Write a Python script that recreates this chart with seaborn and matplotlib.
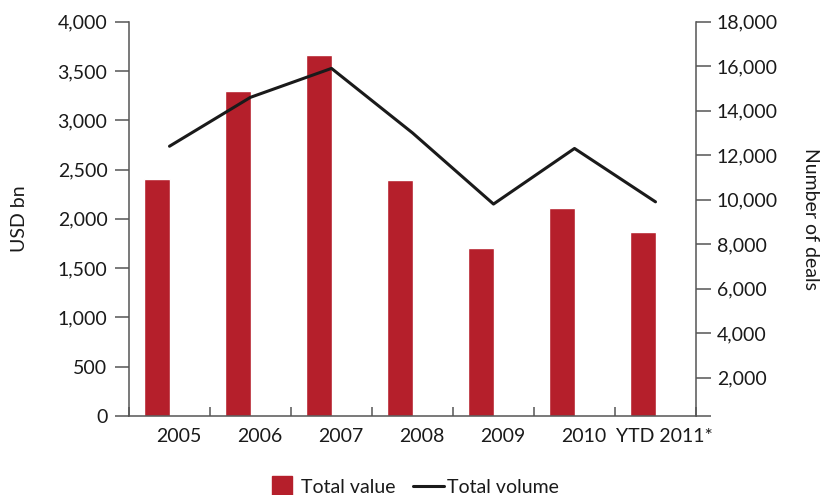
import numpy as np
import pandas as pd
import matplotlib
matplotlib.use("Agg")
import matplotlib.pyplot as plt
from matplotlib.lines import Line2D
import seaborn as sns

# ---- data ----
categories = ["2005", "2006", "2007", "2008", "2009", "2010", "YTD 2011*"]
total_value = [2400, 3300, 3660, 2390, 1700, 2110, 1870]          # USD bn
total_volume = [12400, 14600, 15900, 13000, 9800, 12300, 9900]    # number of deals
left_ticks = [0, 500, 1000, 1500, 2000, 2500, 3000, 3500, 4000]
right_ticks = [2000, 4000, 6000, 8000, 10000, 12000, 14000, 16000, 18000]

RED = "#B51F2B"
LINE = "#1a1a1a"
SPINE = "#555555"
TEXT = "#1a1a1a"

sns.set_theme(style="white")
plt.rcParams["font.family"] = ["Lato", "DejaVu Sans"]
plt.rcParams["font.size"] = 14
plt.rcParams["text.color"] = TEXT
plt.rcParams["axes.labelcolor"] = TEXT
plt.rcParams["xtick.labelcolor"] = TEXT
plt.rcParams["ytick.labelcolor"] = TEXT

n = len(categories)
df_bar = pd.DataFrame({
    "category": categories,
    "value": total_value,
    "series": ["Total value"] * n,
})
df_line = pd.DataFrame({"pos": np.arange(n), "volume": total_volume})

fig = plt.figure(figsize=(8.22, 4.95), dpi=100)
ax = fig.add_axes([129 / 822, 1 - 416 / 495, (696 - 129) / 822, (416 - 21.7) / 495])

sns.barplot(data=df_bar, x="category", y="value", hue="series",
            hue_order=["Total value", "spacer"],
            palette={"Total value": RED, "spacer": "white"},
            width=0.64, dodge=True, saturation=1, legend=False, ax=ax)

ax2 = ax.twinx()
sns.lineplot(data=df_line, x="pos", y="volume", color=LINE, linewidth=2.2,
             ax=ax2, legend=False)

# axes limits
ax.set_xlim(-0.5, n - 0.5)
ax.set_ylim(0, 4000)
ax2.set_ylim(270, 18000)

# left axis
ax.set_yticks(left_ticks)
ax.set_yticklabels([f"{v:,}" for v in left_ticks])
ax.tick_params(axis="y", direction="out", length=10, width=1.1, color=SPINE,
               pad=5.5, labelsize=14, left=True)
ax.set_ylabel("USD bn", fontsize=14, labelpad=21)

# right axis
ax2.set_yticks([270] + right_ticks)
ax2.set_yticklabels([""] + [f"{v:,}" for v in right_ticks])
ax2.tick_params(axis="y", direction="out", length=10.5, width=1.1, color=SPINE,
                pad=4.5, labelsize=14, right=True)
ax2.set_ylabel("Number of deals", fontsize=14, labelpad=17, rotation=270,
               va="bottom")

# x axis: boundary tick marks (inward), labels slightly offset
boundaries = np.arange(n + 1) - 0.5
ax.set_xticks(boundaries)
ax.set_xticklabels([""] * len(boundaries))
ax.tick_params(axis="x", which="major", direction="in", length=6.5, width=1.1,
               color=SPINE, bottom=True)
ax.set_xticks(np.arange(n) + 0.11, minor=True)
ax.set_xticklabels(categories, minor=True)
ax.tick_params(axis="x", which="minor", length=0, pad=9, labelsize=14)
ax.set_xlabel("")
ax2.set_xlabel("")

for a in (ax, ax2):
    a.spines["top"].set_visible(False)
    for side in ("left", "right", "bottom"):
        a.spines[side].set_color(SPINE)
        a.spines[side].set_linewidth(1.1)
ax.spines["right"].set_visible(False)
ax2.spines["left"].set_visible(False)
ax2.spines["bottom"].set_visible(False)
ax.grid(False)
ax2.grid(False)

handles = [
    Line2D([], [], marker="s", markersize=14.5, color=RED, linestyle="none"),
    Line2D([], [], color=LINE, linewidth=2.2),
]
fig.legend(handles, ["Total value", "Total volume"], loc="lower center",
           bbox_to_anchor=(0.502, -0.037), ncol=2, frameon=False, fontsize=14,
           handlelength=1.6, handletextpad=0.15, columnspacing=0.9)

fig.savefig("out.png", dpi=100)
